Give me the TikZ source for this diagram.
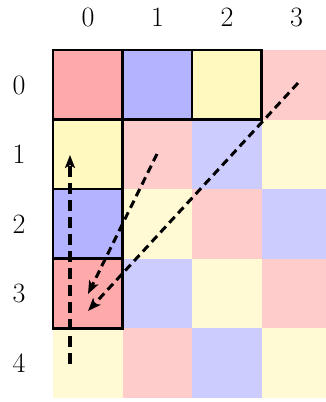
\documentclass[tikz,border=0pt]{standalone}
\usetikzlibrary{arrows.meta}
\definecolor{lt0}{HTML}{FFCCCC}
\definecolor{lt1}{HTML}{CCCCFF}
\definecolor{lt2}{HTML}{FFFAD4}
\definecolor{hi0}{HTML}{FFAAAA}
\definecolor{hi1}{HTML}{B3B3FF}
\definecolor{hi2}{HTML}{FFF9C0}
\tikzset{
  cell/.style={minimum size=69.6pt, inner sep=0pt, outer sep=0pt, anchor=north west},
  hcell/.style={cell, draw=black, line width=2.8pt},
  lab/.style={font=\fontsize{28}{30}\selectfont, inner sep=0pt},
  darr/.style={line width=3pt, dash pattern=on 8pt off 5pt, -{Stealth[length=13pt,width=10pt,inset=3pt]}},
  varr/.style={line width=4pt, dash pattern=on 11pt off 6pt, -{Stealth[length=13pt,width=10pt,inset=3pt]}}
}
\begin{document}
\begin{tikzpicture}[x=1pt,y=-1pt]
\useasboundingbox (0,0) rectangle (326,402);
\clip (0,0) rectangle (326,402);
\foreach \r in {0,...,4} {
  \foreach \c in {0,...,3} {
    \pgfmathtruncatemacro\k{mod(\c-\r+6,3)}
    \node[cell, fill=lt\k] (c\r\c) at ({53+69.5*\c},{50+69.5*\r}) {};
  }
}
\foreach \r/\c in {0/0,0/1,0/2,1/0,2/0,3/0} {
  \pgfmathtruncatemacro\k{mod(\c-\r+6,3)}
  \node[hcell, fill=hi\k] (h\r\c) at ({53+69.5*\c},{50+69.5*\r}) {};
}
\foreach \c in {0,...,3} {
  \node[lab] (col\c) at ({88+69.5*\c},17) {\c};
}
\foreach \r in {0,...,4} {
  \node[lab] (row\r) at (19,{85+69.5*\r}) {\r};
}
\coordinate (a1s) at (70,364);
\coordinate (a1e) at (70,155);
\coordinate (a2s) at (157,154);
\coordinate (a2e) at (88,294);
\coordinate (a3s) at (298,83);
\coordinate (a3e) at (88,311);
\draw[varr] (a1s) -- (a1e);
\draw[darr] (a2s) -- (a2e);
\draw[darr] (a3s) -- (a3e);
\end{tikzpicture}
\end{document}
